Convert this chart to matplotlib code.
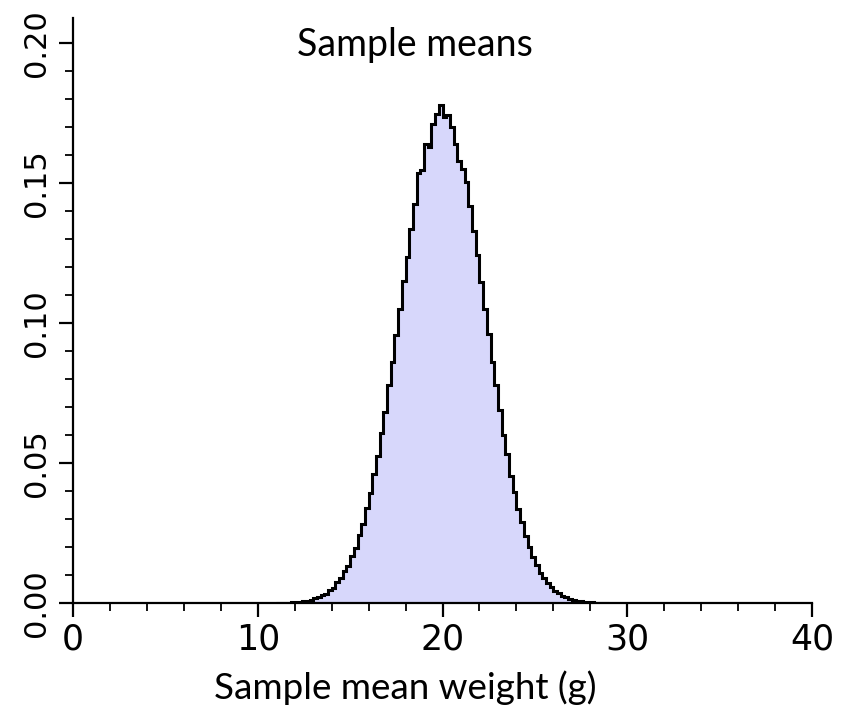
import numpy as np
import matplotlib
matplotlib.use("Agg")
import matplotlib.pyplot as plt
from matplotlib.ticker import MultipleLocator

# histogram of sample means, bins of 0.2 g starting at 11.0 g
bin_start = 11.0
bin_width = 0.2
density = [
    0.0000, 0.0001, 0.0001, 0.0002, 0.0003, 0.0004, 0.0005, 0.0007, 0.0009, 0.0012,
    0.0018, 0.0022, 0.0029, 0.0034, 0.0046, 0.0055, 0.0074, 0.0088, 0.0113, 0.0132,
    0.0168, 0.0198, 0.0242, 0.0283, 0.0341, 0.0393, 0.0462, 0.0525, 0.0609, 0.0682,
    0.0779, 0.0862, 0.0958, 0.1049, 0.1152, 0.1238, 0.1338, 0.1425, 0.1535, 0.1548,
    0.1640, 0.1628, 0.1710, 0.1748, 0.1780, 0.1735, 0.1745, 0.1700, 0.1640, 0.1578,
    0.1552, 0.1505, 0.1418, 0.1330, 0.1245, 0.1148, 0.1050, 0.0962, 0.0860, 0.0778,
    0.0690, 0.0600, 0.0531, 0.0455, 0.0398, 0.0335, 0.0288, 0.0238, 0.0202, 0.0163,
    0.0137, 0.0109, 0.0090, 0.0070, 0.0058, 0.0044, 0.0036, 0.0026, 0.0021, 0.0016,
    0.0012, 0.0009, 0.0007, 0.0005, 0.0004, 0.0003, 0.0002, 0.0001, 0.0001, 0.0000,
]
x_ticks = [0, 10, 20, 30, 40]
y_ticks = [0.00, 0.05, 0.10, 0.15, 0.20]

edges = bin_start + bin_width * np.arange(len(density) + 1)

fig = plt.figure(figsize=(8.52, 7.24), dpi=100)
ax = fig.add_axes([0.0857, 0.167, 0.8674, 0.808])

ax.stairs(density, edges, fill=True, color="#d7d7fb")
ax.stairs(density, edges, color="black", linewidth=2.2)

ax.set_xlim(0, 40)
ax.set_ylim(0, 0.209)
ax.set_xticks(x_ticks)
ax.set_xticklabels([str(t) for t in x_ticks], fontsize=25, family="DejaVu Sans")
ax.set_yticks(y_ticks)
ax.set_yticklabels(["%.2f" % t for t in y_ticks], rotation=90, va="center",
                   fontsize=22, family=["Liberation Sans Narrow", "DejaVu Sans"])
ax.xaxis.set_minor_locator(MultipleLocator(2))
ax.yaxis.set_minor_locator(MultipleLocator(0.01))

for s in ["top", "right"]:
    ax.spines[s].set_visible(False)
for s in ["left", "bottom"]:
    ax.spines[s].set_linewidth(1.6)

ax.tick_params(which="major", length=10, width=1.6, pad=4)
ax.tick_params(axis="y", which="major", pad=6)
ax.tick_params(which="minor", length=6, width=1.3)

ax.text(18.5, 0.1995, "Sample means", ha="center", va="center",
        fontsize=27, family="Lato")
ax.set_xlabel("Sample mean weight (g)", fontsize=26.5, family="Lato")
ax.xaxis.set_label_coords(0.45, -0.115)

fig.savefig("out.png", dpi=100)
